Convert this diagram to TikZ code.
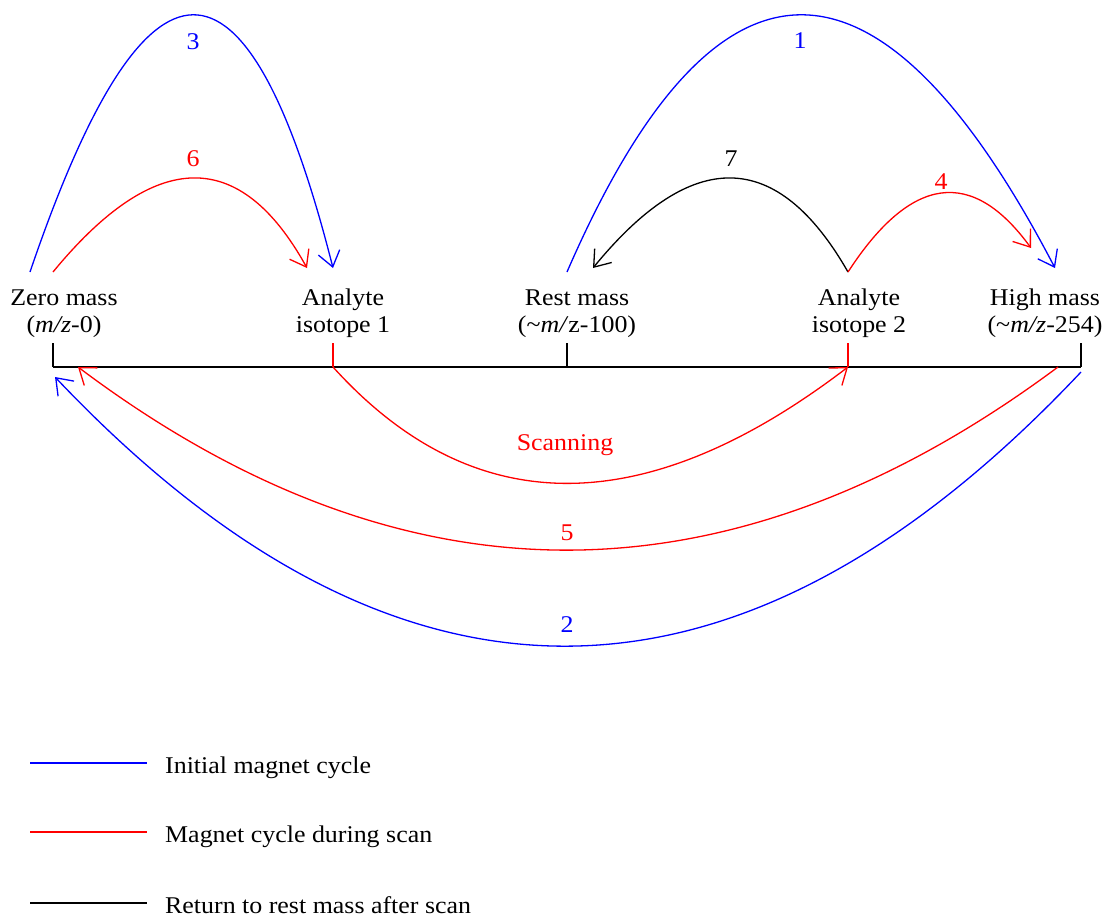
\documentclass[tikz,border=0pt]{standalone}
\usepackage{fontspec}
\setmainfont[FakeStretch=1.08]{Liberation Serif}
\usetikzlibrary{arrows.meta}
\begin{document}
\begin{tikzpicture}[x=1pt,y=-1pt,
  txt/.style={font=\fontsize{24}{27}\selectfont, inner sep=0pt, anchor=base},
  cyc/.style={line width=1.3pt},
  barb/.style={-{Straight Barb[length=15pt,width=22pt,line width=1.3pt]}},
  leg/.style={txt, anchor=base west}]
\useasboundingbox (0,0) rectangle (1104,918);
% axis
\coordinate (z) at (53,367);
\coordinate (a1) at (333,367);
\coordinate (r) at (567,367);
\coordinate (a2) at (848,367);
\coordinate (h) at (1081,367);
\coordinate (zt) at (53,343);
\coordinate (a1t) at (333,343);
\coordinate (rt) at (567,343);
\coordinate (a2t) at (848,343);
\coordinate (ht) at (1081,343);
\draw[line width=2.4pt] (z) -- (h);
\draw[line width=1.3pt] (z) -- (zt);
\draw[line width=1.3pt] (r) -- (rt);
\draw[line width=1.3pt] (h) -- (ht);
\draw[line width=1.3pt, red] (a1) -- (a1t);
\draw[line width=1.3pt, red] (a2) -- (a2t);
% labels
\node[txt] (lz) at (64,305) {Zero mass};
\node[txt] (lz2) at (64,332) {(\textit{m/z}-0)};
\node[txt] (la1) at (343,305) {Analyte};
\node[txt] (la12) at (343,332) {isotope 1};
\node[txt] (lr) at (577,305) {Rest mass};
\node[txt] (lr2) at (577,332) {(\textasciitilde\textit{m/}z-100)};
\node[txt] (la2) at (859,305) {Analyte};
\node[txt] (la22) at (859,332) {isotope 2};
\node[txt] (lh) at (1045,305) {High mass};
\node[txt] (lh2) at (1045,332) {(\textasciitilde\textit{m/z}-254)};
% curve endpoints
\coordinate (s3) at (30,272);  \coordinate (e3) at (333,268);
\coordinate (s6) at (53,272);  \coordinate (e6) at (307,268);
\coordinate (s1) at (567,272); \coordinate (e1) at (1055,268);
\coordinate (s7) at (848,272); \coordinate (e7) at (593,268);
\coordinate (s4) at (848,272); \coordinate (e4) at (1031,248);
\coordinate (s5) at (1058,367); \coordinate (e5) at (78,367);
\coordinate (s2) at (1081,372); \coordinate (e2) at (55,377);
% upper curves
\draw[cyc, blue, barb] (s3) .. controls (146,-69) and (247,-71) .. (e3);
\draw[cyc, red, barb] (s6) .. controls (155,148) and (240,147) .. (e6);
\draw[cyc, blue, barb] (s1) .. controls (715,-69) and (878,-71) .. (e1);
\draw[cyc, black, barb] (s7) .. controls (777,148) and (692,147) .. (e7);
\draw[cyc, red, barb] (s4) .. controls (911,175) and (972,167) .. (e4);
% lower curves
\draw[cyc, red, barb] (a1) .. controls (473,522) and (645,522) .. (a2);
\draw[cyc, red, barb] (s5) .. controls (730,611) and (403,611) .. (e5);
\draw[cyc, blue, barb] (s2) .. controls (738,736) and (396,737) .. (e2);
% numbers
\node[txt, blue] (n1) at (800,48) {1};
\node[txt, blue] (n2) at (567,632) {2};
\node[txt, blue] (n3) at (193,49) {3};
\node[txt, red] (n4) at (941,189) {4};
\node[txt, red] (n5) at (567,540) {5};
\node[txt, red] (n6) at (193,166) {6};
\node[txt, black] (n7) at (731,166) {7};
\node[txt, red] (ns) at (565,450) {Scanning};
% legend
\coordinate (l1a) at (30,763); \coordinate (l1b) at (147,763);
\coordinate (l2a) at (30,832); \coordinate (l2b) at (147,832);
\coordinate (l3a) at (30,903); \coordinate (l3b) at (147,903);
\draw[cyc, blue] (l1a) -- (l1b);
\draw[cyc, red] (l2a) -- (l2b);
\draw[cyc, black] (l3a) -- (l3b);
\node[leg] (t1) at (165,773) {Initial magnet cycle};
\node[leg] (t2) at (165,842) {Magnet cycle during scan};
\node[leg] (t3) at (165,913) {Return to rest mass after scan};
\end{tikzpicture}
\end{document}
